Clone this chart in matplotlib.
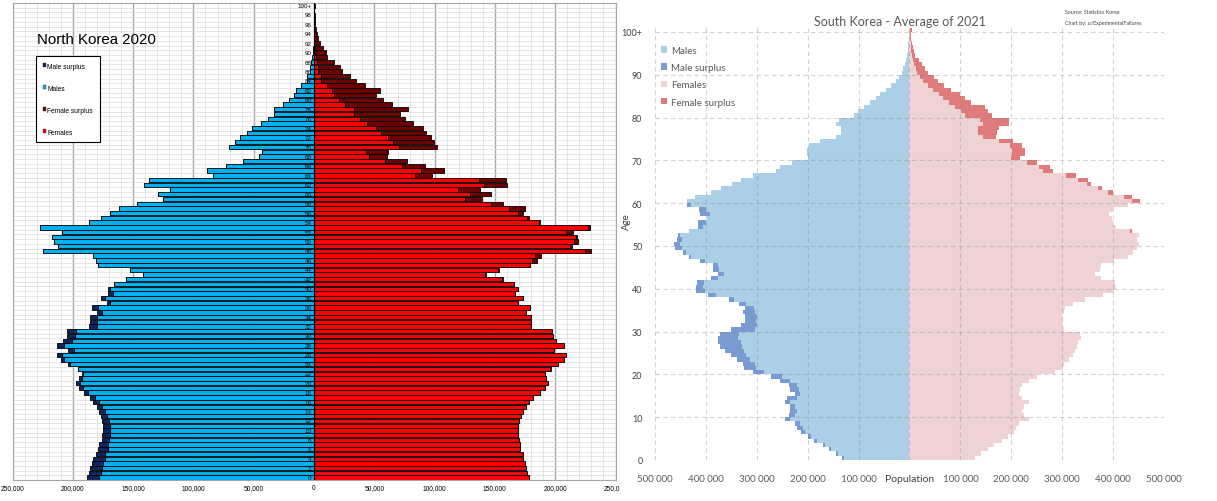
import numpy as np
import matplotlib.pyplot as plt
from matplotlib.patches import Patch
from matplotlib.ticker import MultipleLocator, FuncFormatter, FixedLocator
from matplotlib.transforms import Bbox, TransformedBbox

ages = list(range(101))

# North Korea 2020, population by single year of age (thousands)
nk_male = [188, 186.5, 186, 184, 183, 181, 179.5, 178, 176, 175.5,
           175, 175, 176, 177, 178.5, 180, 183, 186, 191, 195,
           197, 194.5, 192, 196, 203.6, 209.5, 213, 204, 213, 208,
           205, 205, 186.5, 186, 186, 180, 184, 172, 177, 171,
           171, 166, 156, 141.5, 152.5, 179.5, 181, 183.5, 225, 212.5,
           216, 217, 209, 227.4, 186.5, 177, 169.5, 161.7, 146.5, 124.8,
           129.7, 119, 140.6, 137, 83.8, 88.8, 73, 59, 45.5, 43,
           70.5, 65.6, 61.7, 55.6, 51.2, 44, 38.2, 33.5, 33.2, 25.7,
           20.7, 16.6, 15, 10.5, 5.8, 5.8, 3.6, 3, 2.2, 1.4,
           1.1, 0.6, 0.4, 0.3, 0.2, 0.1, 0.1, 0.05, 0.05, 0.02, 0.02]
nk_female = [178.5, 177, 176, 175, 173.5, 173, 171, 170.5, 170, 169,
             169, 169.5, 170, 171.5, 173.5, 175.5, 178.5, 182, 187, 191.5,
             194, 192.5, 191.7, 196.5, 202.6, 207, 209, 199, 207, 201,
             198, 197.5, 180, 180, 180, 175.5, 179.5, 169, 173, 167,
             169, 166, 156.5, 143, 153, 179.5, 184.5, 188.5, 229.7, 214,
             219, 218, 215, 228.7, 187.5, 178.5, 173.6, 174.6, 157, 139,
             146.5, 138, 160, 159, 98, 108, 91.7, 77, 60.7, 61.4,
             102, 99.6, 97.4, 92.7, 90, 82, 75.8, 71, 78, 64.7,
             57.3, 51.2, 55, 42, 35, 29.6, 23.5, 21.9, 16.3, 11,
             9.7, 7.5, 5.3, 3.3, 2.2, 1.7, 1.1, 0.8, 0.5, 0.4, 0.5]

# South Korea 2021 average (thousands)
sk_male = [133, 144, 159, 170, 188, 200, 214, 221, 224, 244,
           237, 235, 234, 245, 241, 225, 234, 237, 254, 273,
           308, 325, 327, 338, 350, 363, 373, 376, 376, 373,
           350, 331, 323, 324, 327, 324, 335, 355, 396, 420,
           419, 417, 389, 376, 387, 387, 411, 434, 445, 460,
           462, 456, 455, 434, 415, 415, 398, 411, 413, 437,
           438, 422, 390, 371, 348, 331, 308, 263, 254, 231,
           199, 202, 201, 197, 175, 144, 134, 134, 144, 138,
           110, 101, 90, 77, 66, 57, 46, 37, 27, 20,
           15, 12, 9, 7, 5, 3.3, 2.6, 2, 1.3, 1, 0.8]
sk_female = [128, 140, 155, 166, 182, 194, 205, 209, 215, 234,
             225, 221, 225, 234, 221, 215, 217, 221, 234, 250,
             285, 301, 304, 313, 322, 325, 330, 332, 336, 334,
             304, 300, 301, 300, 304, 306, 322, 344, 381, 401,
             406, 404, 377, 365, 374, 377, 401, 429, 440, 447,
             450, 446, 451, 438, 406, 399, 397, 392, 399, 430,
             452, 438, 400, 378, 356, 350, 328, 281, 277, 251,
             218, 226, 226, 222, 203, 170, 171, 176, 195, 196,
             162, 155, 148, 120, 110, 99, 82, 67, 56, 49,
             37, 30, 24, 19, 11, 9, 6.6, 5, 3.5, 2.6, 4.6]

W, H = 1217, 502
fig = plt.figure(figsize=(W / 100, H / 100), dpi=100)

# ---------------- North Korea ----------------
nk_cols = {"Male surplus": "#0B2560", "Males": "#00B0F0",
           "Female surplus": "#6E0000", "Females": "#FF0000"}

ax1 = fig.add_axes([12.5 / W, 21 / H, 603 / W, 477 / H])
y = np.array(ages)
m = np.array(nk_male)
f = np.array(nk_female)
base = np.minimum(m, f)
kw = dict(height=0.92, edgecolor="black", linewidth=0.6, zorder=2)
ax1.barh(y, -base, color=nk_cols["Males"], **kw)
ax1.barh(y, -(m - base), left=-base, color=nk_cols["Male surplus"], **kw)
ax1.barh(y, base, color=nk_cols["Females"], **kw)
ax1.barh(y, f - base, left=base, color=nk_cols["Female surplus"], **kw)

ax1.set_xlim(-250, 250)
ax1.set_ylim(-0.5, 100.5)
ax1.xaxis.set_major_locator(MultipleLocator(50))
ax1.xaxis.set_minor_locator(MultipleLocator(10))
ax1.xaxis.set_major_formatter(FuncFormatter(lambda v, p: f"{abs(int(round(v * 1000))):,}"))
ax1.set_yticks([])
ax1.yaxis.set_minor_locator(MultipleLocator(1, offset=0.5))
ax1.set_axisbelow(True)
ax1.grid(which="minor", axis="both", color="#DCDCDC", linewidth=0.5)
ax1.grid(which="major", axis="x", color="#A6A6A6", linewidth=1.0)
ax1.tick_params(which="both", length=0, labelsize=4.8, pad=3)
for s in ax1.spines.values():
    s.set_color("#A6A6A6")
    s.set_linewidth(0.8)
ax1.axvline(0, color="black", linewidth=0.8, zorder=3)

for a in ages[::2]:
    ax1.text(-2, a, "100+" if a == 100 else str(a), ha="right", va="center",
             fontsize=4.5, family="Liberation Sans", zorder=4)

ax1.text(0.0406, 0.9245, "North Korea 2020", transform=ax1.transAxes,
         fontsize=10.8, family="Liberation Sans", va="center", ha="left")

nk_order = ["Male surplus", "Males", "Female surplus", "Females"]
leg1 = ax1.legend([Patch(facecolor=nk_cols[k], edgecolor="#333333", linewidth=0.3) for k in nk_order],
                  nk_order, loc="upper left", bbox_to_anchor=(0.039, 0.889), borderaxespad=0,
                  prop={"family": "Liberation Sans", "size": 4.8}, frameon=True, fancybox=False,
                  edgecolor="black", framealpha=1, labelspacing=2.25, handlelength=0.55,
                  handleheight=0.55, handletextpad=0.15, borderpad=1.0)
leg1.get_frame().set_linewidth(0.8)

fig.canvas.draw()
clip = TransformedBbox(Bbox([[0, 0], [620 / W, 1]]), fig.transFigure)
for lbl in ax1.get_xticklabels():
    lbl.set_family("Liberation Sans")
    lbl.set_clip_box(clip)
    lbl.set_clip_on(True)

# ---------------- South Korea ----------------
sk_cols = {"Males": "#ABCFE7", "Male surplus": "#7A9BD2",
           "Females": "#EFD2D4", "Female surplus": "#E07B7B"}
txt = "#595959"

ax2 = fig.add_axes([655 / W, 41 / H, 509 / W, 432.3 / H])
m2 = np.array(sk_male)
f2 = np.array(sk_female)
base2 = np.minimum(m2, f2)
kw2 = dict(height=1.0, align="edge", linewidth=0, zorder=1)
ax2.barh(y, -base2, color=sk_cols["Males"], **kw2)
ax2.barh(y, -(m2 - base2), left=-base2, color=sk_cols["Male surplus"], **kw2)
ax2.barh(y, base2, color=sk_cols["Females"], **kw2)
ax2.barh(y, f2 - base2, left=base2, color=sk_cols["Female surplus"], **kw2)

ax2.set_xlim(-500, 500)
ax2.set_ylim(0, 101)
xt = list(range(-500, 501, 100))
ax2.xaxis.set_major_locator(FixedLocator(xt))
ax2.set_xticklabels(["Population" if v == 0 else f"{abs(v) * 1000:,}".replace(",", " ") for v in xt])
yt = list(range(0, 101, 10))
ax2.yaxis.set_major_locator(FixedLocator(yt))
ax2.set_yticklabels(["100+" if v == 100 else str(v) for v in yt])
ax2.set_axisbelow(False)
ax2.grid(True, color="#808080", alpha=0.35, linestyle=(0, (4, 3)), linewidth=0.8)
for s in ax2.spines.values():
    s.set_visible(False)
ax2.tick_params(axis="x", length=0, labelsize=7, pad=10, labelcolor=txt)
ax2.tick_params(axis="y", length=0, labelsize=6.5, pad=9, labelcolor="#404040")
for lbl in ax2.get_xticklabels() + ax2.get_yticklabels():
    lbl.set_family("Lato")
for lbl in ax2.get_xticklabels():
    if lbl.get_text() == "Population":
        lbl.set_fontsize(7.5)
        lbl.set_color("#404040")

ax2.set_ylabel("Age", fontsize=7, family="Lato", color="#404040")
ax2.yaxis.set_label_coords(-0.047, 0.553)

sk_order = ["Males", "Male surplus", "Females", "Female surplus"]
leg2 = ax2.legend([Patch(facecolor=sk_cols[k], linewidth=0) for k in sk_order], sk_order,
                  loc="upper left", bbox_to_anchor=(0.012, 0.958), borderaxespad=0, borderpad=0,
                  frameon=False, prop={"family": "Lato", "size": 7}, labelspacing=0.85,
                  handlelength=0.65, handleheight=0.65, handletextpad=0.4)
for t in leg2.get_texts():
    t.set_color(txt)

fig.text(900 / W, 1 - 22 / H, "South Korea - Average of 2021", ha="center", va="center",
         fontsize=9, family="Lato", color=txt)
fig.text(1065 / W, 1 - 13 / H, "Source: Statistics Korea", ha="left", va="center",
         fontsize=3.8, family="Lato", color="#404040")
fig.text(1065 / W, 1 - 23 / H, "Chart by: u/ExperimentalFailures", ha="left", va="center",
         fontsize=3.8, family="Lato", color="#404040")

fig.savefig("out.png", dpi=100)
